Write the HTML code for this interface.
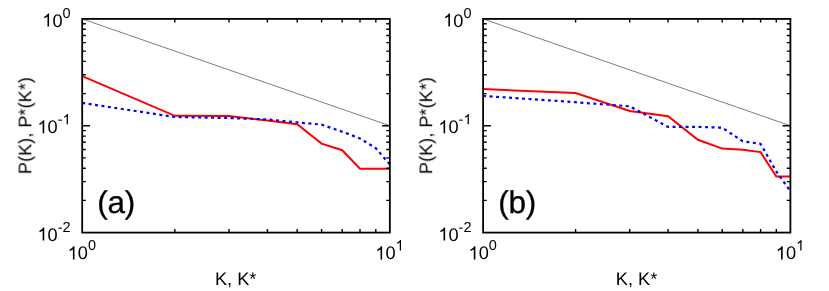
<!DOCTYPE html>
<html><head><meta charset="utf-8"><style>
html,body{margin:0;padding:0;background:#fff;}
svg{display:block;font-family:"Liberation Sans",sans-serif;fill:#000;}
text,use{filter:blur(0.3px);}
text{text-rendering:geometricPrecision;}
</style></head><body>
<svg width="829" height="291" viewBox="0 0 829 291">
<defs><path id="one" d="M763 0H583V1147Q518 1085 412.5 1023T223 930V1104Q373 1174.5 485 1275T644 1470H763Z"/></defs>
<rect width="829" height="291" fill="#fff"/>
<line x1="82.2" y1="18.9" x2="389.85" y2="125.75" stroke="#484848" stroke-width="0.7"/>
<polyline points="82.2,76.2 174.8,115.8 229.0,116.0 267.4,120.5 297.2,124.3 321.6,143.6 342.2,150.2 360.0,168.8 375.8,168.8 389.9,168.8" fill="none" stroke="#ff0000" stroke-width="2" stroke-linejoin="miter"/>
<path d="M82.2,102.9 L174.8,117.0 L229.0,118.0 L267.4,119.4 L297.2,122.4 L321.6,124.6 L342.2,131.7 L360.0,138.4 L375.8,148.2 L389.9,164.5" fill="none" stroke="#0000ff" stroke-width="2.2" stroke-dasharray="3 3.5"/>
<path d="M174.8,18.9v3.6M174.8,232.6v-3.6M229.0,18.9v3.6M229.0,232.6v-3.6M267.4,18.9v3.6M267.4,232.6v-3.6M297.2,18.9v3.6M297.2,232.6v-3.6M321.6,18.9v3.6M321.6,232.6v-3.6M342.2,18.9v3.6M342.2,232.6v-3.6M360.0,18.9v3.6M360.0,232.6v-3.6M375.8,18.9v3.6M375.8,232.6v-3.6M82.2,93.6h3.6M389.85,93.6h-3.6M82.2,74.8h3.6M389.85,74.8h-3.6M82.2,61.4h3.6M389.85,61.4h-3.6M82.2,51.1h3.6M389.85,51.1h-3.6M82.2,42.6h3.6M389.85,42.6h-3.6M82.2,35.5h3.6M389.85,35.5h-3.6M82.2,29.3h3.6M389.85,29.3h-3.6M82.2,23.8h3.6M389.85,23.8h-3.6M82.2,200.4h3.6M389.85,200.4h-3.6M82.2,181.6h3.6M389.85,181.6h-3.6M82.2,168.3h3.6M389.85,168.3h-3.6M82.2,157.9h3.6M389.85,157.9h-3.6M82.2,149.5h3.6M389.85,149.5h-3.6M82.2,142.3h3.6M389.85,142.3h-3.6M82.2,136.1h3.6M389.85,136.1h-3.6M82.2,130.6h3.6M389.85,130.6h-3.6M82.2,125.8h7.8M389.85,125.8h-7.8" fill="none" stroke="#000" stroke-width="1.4"/>
<rect x="82.2" y="18.9" width="307.65000000000003" height="213.7" fill="none" stroke="#000" stroke-width="1.8"/>
<use href="#one" transform="translate(42.29,26.60) scale(0.00889,-0.00889)"/><text x="52.41" y="26.6" font-size="18.2">0</text><text x="62.54" y="17.6" font-size="14.5">0</text>
<use href="#one" transform="translate(37.46,133.30) scale(0.00889,-0.00889)"/><text x="47.58" y="133.3" font-size="18.2">0</text><text x="57.71" y="124.30000000000001" font-size="14.5">-</text><use href="#one" transform="translate(62.54,124.30) scale(0.00708,-0.00708)"/>
<use href="#one" transform="translate(37.46,240.60) scale(0.00889,-0.00889)"/><text x="47.58" y="240.6" font-size="18.2">0</text><text x="57.71" y="231.6" font-size="14.5">-</text><text x="62.54" y="231.6" font-size="14.5">2</text>
<use href="#one" transform="translate(67.70,259.40) scale(0.00889,-0.00889)"/><text x="77.82" y="259.4" font-size="18.2">0</text><text x="87.95" y="250.39999999999998" font-size="14.5">0</text>
<use href="#one" transform="translate(375.35,259.40) scale(0.00889,-0.00889)"/><text x="385.47" y="259.4" font-size="18.2">0</text><use href="#one" transform="translate(395.60,250.40) scale(0.00708,-0.00708)"/>
<text x="214.89999999999998" y="284.6" font-size="18.2">K, K*</text>
<text transform="translate(31.300000000000004,174.2) rotate(-90)" font-size="18.2">P(K), P*(K*)</text>
<text x="97.3" y="213.1" font-size="31.5" letter-spacing="-0.25" stroke="#000" stroke-width="0.3">(a)</text>
<line x1="483.1" y1="18.9" x2="790.4" y2="125.75" stroke="#484848" stroke-width="0.7"/>
<polyline points="483.1,89.1 575.6,93.1 629.7,111.0 668.1,116.3 697.9,139.8 722.2,148.6 742.8,149.8 760.6,152.1 776.3,176.6 790.4,176.6" fill="none" stroke="#ff0000" stroke-width="2" stroke-linejoin="miter"/>
<path d="M483.1,95.9 L575.6,102.2 L629.7,106.3 L668.1,126.9 L697.9,126.9 L722.2,127.7 L742.8,141.3 L760.6,143.9 L776.3,171.5 L790.4,191.2" fill="none" stroke="#0000ff" stroke-width="2.2" stroke-dasharray="3 3.5"/>
<path d="M575.6,18.9v3.6M575.6,232.6v-3.6M629.7,18.9v3.6M629.7,232.6v-3.6M668.1,18.9v3.6M668.1,232.6v-3.6M697.9,18.9v3.6M697.9,232.6v-3.6M722.2,18.9v3.6M722.2,232.6v-3.6M742.8,18.9v3.6M742.8,232.6v-3.6M760.6,18.9v3.6M760.6,232.6v-3.6M776.3,18.9v3.6M776.3,232.6v-3.6M483.1,93.6h3.6M790.4,93.6h-3.6M483.1,74.8h3.6M790.4,74.8h-3.6M483.1,61.4h3.6M790.4,61.4h-3.6M483.1,51.1h3.6M790.4,51.1h-3.6M483.1,42.6h3.6M790.4,42.6h-3.6M483.1,35.5h3.6M790.4,35.5h-3.6M483.1,29.3h3.6M790.4,29.3h-3.6M483.1,23.8h3.6M790.4,23.8h-3.6M483.1,200.4h3.6M790.4,200.4h-3.6M483.1,181.6h3.6M790.4,181.6h-3.6M483.1,168.3h3.6M790.4,168.3h-3.6M483.1,157.9h3.6M790.4,157.9h-3.6M483.1,149.5h3.6M790.4,149.5h-3.6M483.1,142.3h3.6M790.4,142.3h-3.6M483.1,136.1h3.6M790.4,136.1h-3.6M483.1,130.6h3.6M790.4,130.6h-3.6M483.1,125.8h7.8M790.4,125.8h-7.8" fill="none" stroke="#000" stroke-width="1.4"/>
<rect x="483.1" y="18.9" width="307.29999999999995" height="213.7" fill="none" stroke="#000" stroke-width="1.8"/>
<use href="#one" transform="translate(443.19,26.60) scale(0.00889,-0.00889)"/><text x="453.31" y="26.6" font-size="18.2">0</text><text x="463.44" y="17.6" font-size="14.5">0</text>
<use href="#one" transform="translate(438.36,133.30) scale(0.00889,-0.00889)"/><text x="448.48" y="133.3" font-size="18.2">0</text><text x="458.61" y="124.30000000000001" font-size="14.5">-</text><use href="#one" transform="translate(463.44,124.30) scale(0.00708,-0.00708)"/>
<use href="#one" transform="translate(438.36,240.60) scale(0.00889,-0.00889)"/><text x="448.48" y="240.6" font-size="18.2">0</text><text x="458.61" y="231.6" font-size="14.5">-</text><text x="463.44" y="231.6" font-size="14.5">2</text>
<use href="#one" transform="translate(468.60,259.40) scale(0.00889,-0.00889)"/><text x="478.72" y="259.4" font-size="18.2">0</text><text x="488.85" y="250.39999999999998" font-size="14.5">0</text>
<use href="#one" transform="translate(775.90,259.40) scale(0.00889,-0.00889)"/><text x="786.02" y="259.4" font-size="18.2">0</text><use href="#one" transform="translate(796.15,250.40) scale(0.00708,-0.00708)"/>
<text x="615.8" y="284.6" font-size="18.2">K, K*</text>
<text transform="translate(432.20000000000005,174.2) rotate(-90)" font-size="18.2">P(K), P*(K*)</text>
<text x="498.20000000000005" y="213.1" font-size="31.5" letter-spacing="-0.25" stroke="#000" stroke-width="0.3">(b)</text>
</svg>
</body></html>
